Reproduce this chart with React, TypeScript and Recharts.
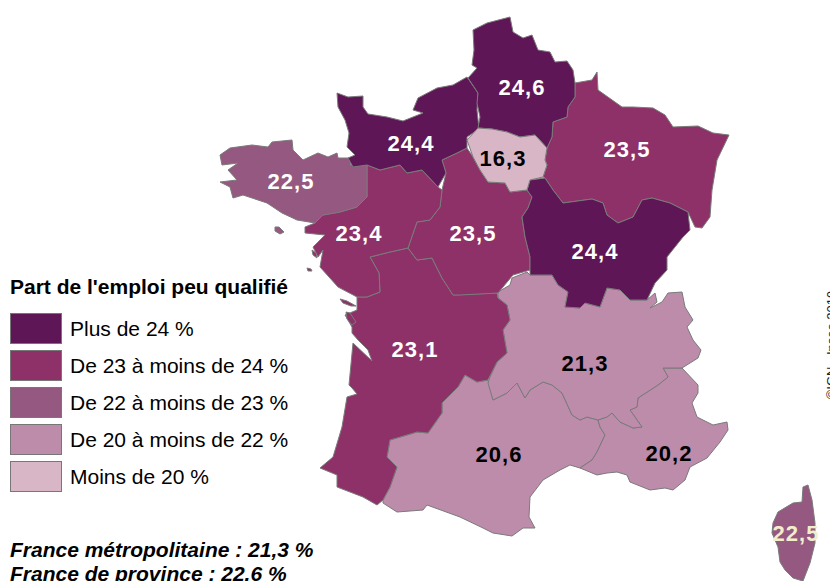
import React from "react";
import { ScatterChart, Scatter, XAxis, YAxis, Polygon } from "recharts";

type Pt = [number, number];

// Outlines, in map units (domain 0-830 / 0-581)
const hautsDeFrance: Pt[] = [[468,78],[477,68],[472,65],[474,50],[473,30],[487,23],[510,17],[513,32],[523,38],[532,35],[538,50],[550,52],[555,62],[567,61],[573,70],[575,83],[575,97],[568,107],[567,117],[553,122],[552,137],[547,148],[535,135],[520,137],[507,132],[492,129],[478,128],[480,117],[477,103],[478,93]];
const normandie: Pt[] = [[337,93],[348,97],[363,96],[363,107],[368,114],[387,117],[403,121],[423,113],[413,110],[418,98],[437,88],[453,85],[467,77],[478,93],[477,110],[479,129],[467,137],[467,148],[457,153],[442,160],[446,173],[438,187],[422,170],[407,173],[400,165],[380,170],[367,165],[353,167],[348,158],[355,155],[347,147],[349,133],[345,120],[338,107]];
const bretagne: Pt[] = [[220,155],[230,148],[252,145],[268,147],[272,142],[292,140],[293,150],[303,160],[318,153],[328,157],[337,153],[338,158],[353,158],[350,165],[367,165],[367,197],[357,207],[340,212],[323,215],[315,223],[297,220],[282,213],[267,203],[243,195],[233,198],[230,187],[220,182],[237,180],[228,170],[238,163],[222,165]];
const paysDeLaLoire: Pt[] = [[367,165],[380,170],[400,165],[407,173],[422,170],[438,187],[442,190],[440,207],[430,220],[417,222],[408,248],[390,252],[370,257],[379,273],[380,292],[367,297],[357,297],[338,287],[320,267],[323,250],[318,257],[313,247],[325,235],[305,233],[305,227],[315,223],[323,215],[340,212],[357,207],[367,197]];
const nouvelleAquitaine: Pt[] = [[370,257],[390,252],[408,248],[417,260],[432,258],[442,278],[453,295],[497,293],[498,298],[507,305],[510,320],[503,330],[507,353],[497,362],[488,380],[477,382],[465,375],[458,387],[442,403],[442,413],[428,433],[417,432],[390,440],[387,457],[397,467],[390,487],[383,500],[377,505],[363,497],[337,487],[337,475],[320,468],[333,457],[342,427],[347,397],[357,394],[352,388],[349,385],[353,343],[372,361],[368,350],[358,340],[352,333],[352,327],[345,315],[357,310],[357,297],[367,297],[380,292],[379,273]];
const centreValDeLoire: Pt[] = [[446,173],[442,160],[457,153],[467,148],[473,157],[480,170],[488,182],[505,183],[510,192],[527,190],[532,197],[528,208],[522,217],[525,237],[530,257],[530,270],[513,275],[498,293],[460,295],[453,295],[442,278],[432,258],[417,260],[408,248],[417,222],[430,220],[440,207],[442,190]];
const ileDeFrance: Pt[] = [[467,140],[478,128],[492,129],[507,132],[520,137],[535,135],[547,148],[545,160],[547,165],[543,177],[530,180],[527,190],[510,192],[505,183],[488,182],[480,170],[473,157]];
const grandEst: Pt[] = [[575,83],[592,80],[597,72],[598,90],[622,107],[633,107],[653,108],[665,115],[673,127],[698,126],[713,133],[729,135],[717,160],[712,190],[710,217],[702,228],[695,227],[688,212],[670,203],[652,198],[642,200],[633,217],[618,223],[607,215],[603,203],[592,199],[563,203],[553,190],[545,178],[543,177],[547,165],[545,160],[547,148],[552,137],[553,122],[567,117],[568,107],[575,97]];
const bourgogneFC: Pt[] = [[530,180],[545,178],[553,190],[563,203],[592,199],[603,203],[607,215],[618,223],[633,217],[642,200],[652,198],[670,203],[688,212],[690,230],[683,237],[667,257],[667,270],[655,283],[647,300],[630,300],[620,290],[607,288],[600,307],[585,303],[580,308],[565,307],[568,292],[558,285],[552,275],[530,275],[530,257],[525,237],[522,217],[528,208],[532,197],[527,190]];
const auvergneRA: Pt[] = [[498,292],[510,285],[512,278],[527,272],[530,275],[552,275],[558,285],[568,292],[565,307],[580,308],[585,303],[600,307],[607,288],[620,290],[630,300],[647,300],[655,293],[657,302],[650,308],[662,302],[668,293],[682,292],[685,307],[693,320],[687,327],[693,340],[701,350],[698,358],[682,368],[663,368],[668,377],[658,385],[638,398],[637,407],[630,410],[642,427],[633,428],[620,422],[612,413],[607,417],[598,420],[587,417],[580,420],[572,415],[562,393],[552,385],[543,382],[530,390],[525,398],[517,383],[507,393],[493,400],[488,383],[490,377],[497,362],[507,353],[503,330],[510,320],[507,305],[498,298]];
const occitanie: Pt[] = [[488,380],[493,400],[507,393],[517,383],[525,398],[530,390],[543,382],[552,385],[562,393],[572,415],[580,420],[587,417],[598,420],[600,427],[605,435],[597,452],[592,460],[580,468],[570,465],[560,470],[543,480],[530,497],[529,517],[535,528],[523,528],[512,536],[493,533],[483,528],[460,517],[427,505],[423,510],[397,512],[383,503],[383,500],[390,487],[397,467],[387,457],[390,440],[417,432],[428,433],[442,413],[442,403],[458,387],[465,375],[477,382]];
const paca: Pt[] = [[598,420],[607,417],[612,413],[620,422],[633,428],[642,427],[630,410],[637,407],[638,398],[658,385],[668,377],[663,368],[682,368],[698,385],[698,393],[692,403],[697,417],[713,425],[727,422],[728,430],[720,442],[707,458],[690,467],[685,480],[673,490],[665,488],[650,490],[630,482],[627,475],[617,472],[607,473],[597,475],[580,468],[592,460],[597,452],[605,435],[600,427]];
const corse: Pt[] = [[803,487],[808,485],[812,500],[815,523],[815,543],[810,563],[803,581],[793,578],[785,570],[780,562],[778,547],[772,533],[773,523],[778,512],[793,503],[802,502]];
const ileDeRe: Pt[] = [[340,299],[347,301],[356,306],[351,306],[343,303]];
const ileOleron: Pt[] = [[346,312],[350,313],[356,322],[352,325],[347,319]];
const belleIle: Pt[] = [[275,227],[279,227],[284,232],[280,234],[275,231]];
const noirmoutier: Pt[] = [[312,250],[316,253],[317,258],[313,255]];
const ileDYeu: Pt[] = [[307,268],[311,269],[312,271],[308,271]];

const C1 = "#5f1656";
const C2 = "#8e3168";
const C3 = "#955880";
const C4 = "#bc8caa";
const C5 = "#d9b6c5";

const regions: { name: string; outline: Pt[]; color: string }[] = [
  { name: "Occitanie", outline: occitanie, color: C4 },
  { name: "Provence", outline: paca, color: C4 },
  { name: "Auvergne", outline: auvergneRA, color: C4 },
  { name: "Aquitaine", outline: nouvelleAquitaine, color: C2 },
  { name: "Centre", outline: centreValDeLoire, color: C2 },
  { name: "Loire", outline: paysDeLaLoire, color: C2 },
  { name: "Bretagne", outline: bretagne, color: C3 },
  { name: "Grand Est", outline: grandEst, color: C2 },
  { name: "Bourgogne", outline: bourgogneFC, color: C1 },
  { name: "Normandie", outline: normandie, color: C1 },
  { name: "Hauts-de-France", outline: hautsDeFrance, color: C1 },
  { name: "Ile-de-France", outline: ileDeFrance, color: C5 },
  { name: "Corse", outline: corse, color: C3 },
  { name: "Re", outline: ileDeRe, color: C2 },
  { name: "Oleron", outline: ileOleron, color: C2 },
  { name: "Belle-Ile", outline: belleIle, color: C3 },
  { name: "Noirmoutier", outline: noirmoutier, color: C2 },
  { name: "Yeu", outline: ileDYeu, color: C2 },
];

const valueLabels = [
  { x: 522, y: 87, value: "24,6", color: "#fff" },
  { x: 411, y: 143, value: "24,4", color: "#fff" },
  { x: 503, y: 158, value: "16,3", color: "#000" },
  { x: 627, y: 149, value: "23,5", color: "#fff" },
  { x: 291, y: 181, value: "22,5", color: "#fff" },
  { x: 359, y: 233, value: "23,4", color: "#fff" },
  { x: 473, y: 233, value: "23,5", color: "#fff" },
  { x: 595, y: 251, value: "24,4", color: "#fff" },
  { x: 415, y: 349, value: "23,1", color: "#fff" },
  { x: 585, y: 363, value: "21,3", color: "#000" },
  { x: 499, y: 454, value: "20,6", color: "#000" },
  { x: 669, y: 453, value: "20,2", color: "#000" },
  { x: 796, y: 533, value: "22,5", color: "#f2eecb" },
];

const classes = ["Plus de 24 %", "De 23 à moins de 24 %", "De 22 à moins de 23 %", "De 20 à moins de 22 %", "Moins de 20 %"];
const classColors = [C1, C2, C3, C4, C5];
const credit = [{ x: 830, y: 345, value: "©IGN - Insee 2019" }];

const FONT = "'Liberation Sans', Arial, sans-serif";

const drawRegion = (color: string) => (props: any) => (
  <Polygon points={props.points} fill={color} stroke="#7a7a7a" strokeWidth={1} strokeLinejoin="round" />
);

const ValueText = (props: any) => (
  <text
    x={props.cx}
    y={props.cy}
    textAnchor="middle"
    dominantBaseline="central"
    fontFamily={FONT}
    fontWeight="bold"
    fontSize={22}
    letterSpacing={1}
    fill={props.payload.color}
  >
    {props.payload.value}
  </text>
);

// sits half past the right edge, as in the source image
const CreditText = (props: any) => (
  <text
    x={props.cx + 6}
    y={props.cy}
    textAnchor="middle"
    fontFamily={FONT}
    fontSize={13}
    fill="#222"
    transform={`rotate(-90 ${props.cx + 6} ${props.cy})`}
  >
    {props.payload.value}
  </text>
);

const LegendBox = () => (
  <div style={{ position: "absolute", left: 10, top: 275, fontFamily: FONT, color: "#000", whiteSpace: "nowrap" }}>
    <div style={{ fontWeight: "bold", fontSize: 21, lineHeight: "24px", marginBottom: 11 }}>Part de l'emploi peu qualifié</div>
    {classes.map((c, i) => (
      <div key={c} style={{ display: "flex", alignItems: "center", height: 37, fontSize: 21 }}>
        <span
          style={{
            width: 50,
            height: 29,
            marginRight: 8,
            background: classColors[i],
            border: "1px solid #777",
            display: "inline-block",
          }}
        />
        {c}
      </div>
    ))}
  </div>
);

export default function App() {
  return (
    <div style={{ position: "absolute", left: 0, top: 0, width: 830, height: 581, overflow: "hidden", background: "#fff" }}>
      <ScatterChart width={830} height={581} margin={{ top: 0, right: 0, bottom: 0, left: 0 }}>
        <XAxis type="number" dataKey="x" domain={[0, 830]} hide />
        <YAxis type="number" dataKey="y" domain={[0, 581]} reversed hide />
        {regions.map((r) => (
          <Scatter
            key={r.name}
            name={r.name}
            data={r.outline.map(([x, y]) => ({ x, y }))}
            line={drawRegion(r.color)}
            shape={() => <g />}
            isAnimationActive={false}
          />
        ))}
        <Scatter data={valueLabels} shape={ValueText} isAnimationActive={false} />
        <Scatter data={credit} shape={CreditText} isAnimationActive={false} />
      </ScatterChart>
      <LegendBox />
      <div
        style={{
          position: "absolute",
          left: 10,
          top: 538,
          fontFamily: FONT,
          fontWeight: "bold",
          fontStyle: "italic",
          fontSize: 21,
          lineHeight: "24px",
          color: "#000",
          whiteSpace: "nowrap",
        }}
      >
        <div>France métropolitaine : 21,3 %</div>
        <div>France de province : 22,6 %</div>
      </div>
    </div>
  );
}
